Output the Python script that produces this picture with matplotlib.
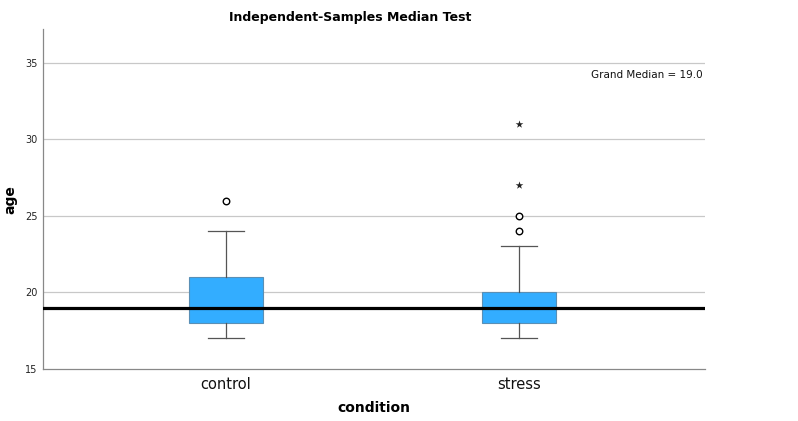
import matplotlib
matplotlib.use("Agg")
import matplotlib.pyplot as plt

# box statistics
groups = ["control", "stress"]
whisker_low = [17, 17]
q1 = [18, 18]
medians = [19, 19]
q3 = [21, 20]
whisker_high = [24, 23]
outliers_circle = [[26], [24, 25]]
outliers_star = [[], [27, 31]]
grand_median = 19.0
yticks = [15, 20, 25, 30, 35]

plt.rcParams['font.family'] = ['DejaVu Sans']

fig = plt.figure(figsize=(7.98, 4.21), dpi=100)
ax = fig.add_axes([43/798, 1-369/421, (705-43)/798, (369-29)/421])

stats = []
for i, g in enumerate(groups):
    stats.append(dict(label=g, whislo=whisker_low[i], q1=q1[i], med=medians[i],
                      q3=q3[i], whishi=whisker_high[i], fliers=[]))

positions = list(range(len(groups)))
ax.bxp(stats, positions=positions, widths=0.25, patch_artist=True, showfliers=False,
       boxprops=dict(facecolor='#33adff', edgecolor='#5a8fb5', linewidth=0.8),
       whiskerprops=dict(color='#555555', linewidth=0.9),
       capprops=dict(color='#555555', linewidth=0.9),
       medianprops=dict(color='#333333', linewidth=0.8),
       capwidths=0.125, zorder=3)

for i in positions:
    if outliers_circle[i]:
        ax.scatter([i]*len(outliers_circle[i]), outliers_circle[i], s=22, marker='o',
                   facecolors='white', edgecolors='black', linewidths=1.0, zorder=4)
    if outliers_star[i]:
        ax.scatter([i]*len(outliers_star[i]), outliers_star[i], s=34, marker='*',
                   color='#222222', linewidths=0, zorder=4)

ax.axhline(grand_median, color='black', linewidth=2.3, zorder=5)

ax.set_xlim(-0.625, 1.635)
ax.set_ylim(15, 37.2)
ax.set_yticks(yticks)
ax.set_xticks(positions)
ax.set_xticklabels(groups, fontsize=10.5, color='#111111')
ax.tick_params(axis='y', length=0, labelsize=7, pad=4, colors='#222222')
ax.tick_params(axis='x', length=0, pad=6)

for y in yticks[1:]:
    ax.axhline(y, color='#c8c8c8', linewidth=0.9, zorder=0)

for s in ['top', 'right']:
    ax.spines[s].set_visible(False)
ax.spines['left'].set_color('#888888')
ax.spines['bottom'].set_color('#888888')
ax.spines['left'].set_linewidth(0.9)
ax.spines['bottom'].set_linewidth(0.9)

ax.text(0.997, 0.866, "Grand Median = %.1f" % grand_median, transform=ax.transAxes,
        ha='right', va='center', fontsize=7.5, color='#111111')

fig.text(350/798, 1-18/421, "Independent-Samples Median Test", ha='center', va='center',
         fontsize=9, fontweight='bold')
fig.text(374/798, 1-408/421, "condition", ha='center', va='center',
         fontsize=10, fontweight='bold')
fig.text(10/798, 1-200/421, "age", ha='center', va='center', rotation=90,
         fontsize=10, fontweight='bold')

fig.savefig("out.png", dpi=100)
